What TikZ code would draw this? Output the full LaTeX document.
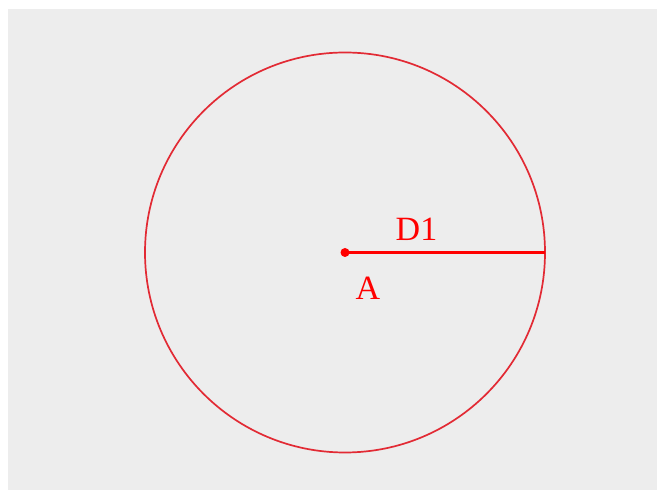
\documentclass[tikz,border=0pt]{standalone}
\usepackage{fontspec}
\setmainfont{Liberation Serif}
\definecolor{bggray}{RGB}{237,237,237}
\definecolor{circred}{RGB}{226,42,52}
\begin{document}
\begin{tikzpicture}[x=0.5pt,y=-0.5pt,
  lbl/.style={text=red,font=\fontsize{17}{20}\selectfont}]
\useasboundingbox (0,0) rectangle (657,490);
\fill[bggray] (8,9) rectangle (657,490);
\draw[circred,line width=0.85pt] (345,252.5) circle (200);
\node[circle,fill=red,inner sep=0pt,minimum size=4.5pt] (A) at (345,252.5) {};
\coordinate (R) at (545,252.5);
\draw[red,line width=1.7pt] (A.center) -- (R);
\node[lbl] (lblD) at (416.5,229.5) {D1};
\node[lbl] (lblA) at (368,288) {A};
\end{tikzpicture}
\end{document}
